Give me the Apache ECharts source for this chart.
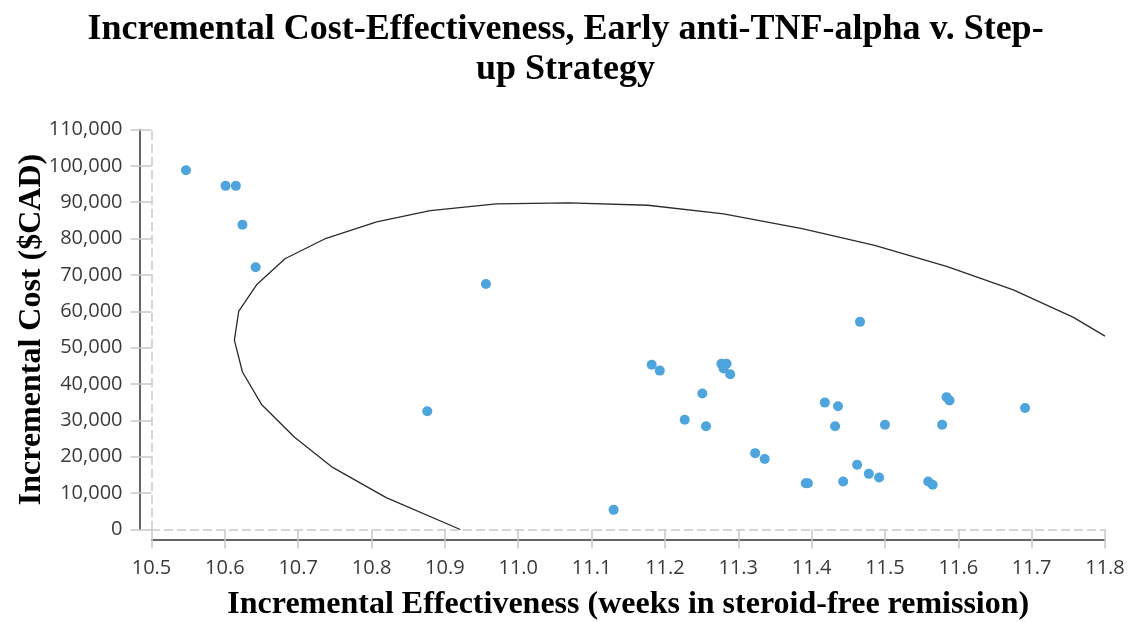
<!DOCTYPE html>
<html>
<head>
<meta charset="utf-8">
<script src="https://cdn.jsdelivr.net/npm/echarts@6/dist/echarts.min.js"></script>
<style>
  html, body { margin: 0; padding: 0; background: #ffffff; }
  #chart { width: 1131px; height: 622px; }
</style>
</head>
<body>
<div id="chart"></div>
<script>
// Simulated incremental outcomes (one dot per simulation run)
const effectiveness = [10.547, 10.601, 10.615, 10.624, 10.642, 10.956, 10.876, 11.130, 11.182, 11.193,
  11.277, 11.284, 11.280, 11.289, 11.251, 11.227, 11.256, 11.323, 11.336, 11.392,
  11.395, 11.443, 11.418, 11.436, 11.432, 11.466, 11.462, 11.478, 11.492, 11.500,
  11.584, 11.588, 11.578, 11.559, 11.565, 11.691];
const cost = [98800, 94500, 94500, 83800, 72100, 67500, 32500, 5400, 45300, 43700,
  45600, 45600, 44300, 42700, 37400, 30200, 28400, 21000, 19400, 12700,
  12700, 13200, 34900, 33900, 28400, 57100, 17800, 15300, 14300, 28800,
  36400, 35500, 28800, 13200, 12300, 33400];

// Confidence ellipse outline (clipped by the plot area)
const ellipseX = [10.921, 10.820, 10.747, 10.695, 10.650, 10.624, 10.613, 10.619, 10.644, 10.682,
  10.736, 10.807, 10.880, 10.970, 11.069, 11.177, 11.280, 11.387, 11.486, 11.585,
  11.675, 11.757, 11.800];
const ellipseY = [0, 8780, 17070, 25360, 34390, 43310, 52070, 60080, 67460, 74450,
  79890, 84590, 87710, 89560, 89830, 89170, 86790, 82730, 78120, 72320,
  65880, 58340, 53180];

// Axis ranges
const xMin = 10.5, xMax = 11.8, xStep = 0.1;
const yMin = 0, yMax = 110000, yStep = 10000;

const titleText = 'Incremental Cost-Effectiveness, Early anti-TNF-alpha v. Step-\nup Strategy';
const xName = 'Incremental Effectiveness (weeks in steroid-free remission)';
const yName = 'Incremental Cost ($CAD)';

const serif = '"Liberation Serif", "Times New Roman", serif';
const sans = '"Open Sans", "Liberation Sans", Arial, sans-serif';

const points = effectiveness.map((x, i) => [x, cost[i]]);
const ellipse = ellipseX.map((x, i) => [x, ellipseY[i]]);

const chart = echarts.init(document.getElementById('chart'), null, { renderer: 'canvas' });

const fmtY = v => String(v).replace(/\B(?=(\d{3})+(?!\d))/g, ',');

chart.setOption({
  animation: false,
  backgroundColor: '#ffffff',
  title: {
    text: titleText,
    left: 'center',
    top: 5,
    textStyle: { fontFamily: serif, fontWeight: 'bold', fontSize: 36, color: '#000', lineHeight: 40 }
  },
  grid: { left: 151.5, right: 26, top: 129.5, bottom: 92.5, containLabel: false, outerBoundsMode: 'none' },
  xAxis: [
    {
      // labelled axis, drawn slightly below the plot
      type: 'value', min: xMin, max: xMax, interval: xStep, position: 'bottom', offset: 10,
      axisLine: { show: true, onZero: false, lineStyle: { color: '#333', width: 1.5 } },
      axisTick: { show: false },
      splitLine: { show: false },
      axisLabel: { color: '#3a3a3a', fontFamily: sans, fontSize: 20, margin: 19, formatter: v => v.toFixed(1) },
      name: xName, nameLocation: 'middle', nameGap: 49,
      nameTextStyle: { fontFamily: serif, fontWeight: 'bold', fontSize: 32, color: '#000' }
    },
    {
      // dashed baseline with tick marks
      type: 'value', min: xMin, max: xMax, interval: xStep, position: 'bottom', offset: 0,
      axisLine: { show: true, onZero: false, lineStyle: { color: '#c8c8c8', type: [8, 5], width: 1.5 } },
      axisTick: { show: true, inside: false, length: 19, lineStyle: { color: '#c8c8c8', width: 1.5 } },
      axisLabel: { show: false },
      splitLine: { show: false }
    }
  ],
  yAxis: [
    {
      type: 'value', min: yMin, max: yMax, interval: yStep, position: 'left', offset: 12,
      axisLine: { show: true, onZero: false, lineStyle: { color: '#333', width: 1.5 } },
      axisTick: { show: false },
      splitLine: { show: false },
      axisLabel: { color: '#3a3a3a', fontFamily: sans, fontSize: 20, margin: 17, formatter: fmtY },
      name: yName, nameLocation: 'middle', nameGap: 92, nameRotate: 90, nameMoveOverlap: false,
      nameTextStyle: { fontFamily: serif, fontWeight: 'bold', fontSize: 32, color: '#000' }
    },
    {
      type: 'value', min: yMin, max: yMax, interval: yStep, position: 'left', offset: 0,
      axisLine: { show: true, onZero: false, lineStyle: { color: '#c8c8c8', type: [8, 5], width: 1.5 } },
      axisTick: { show: true, inside: false, length: 21, lineStyle: { color: '#c8c8c8', width: 1.5 } },
      axisLabel: { show: false },
      splitLine: { show: false }
    }
  ],
  series: [
    {
      type: 'line', xAxisIndex: 0, yAxisIndex: 0,
      data: ellipse, showSymbol: false, symbol: 'none', clip: true,
      lineStyle: { color: '#2b2b2b', width: 1.3 },
      silent: true, z: 2
    },
    {
      type: 'scatter', xAxisIndex: 0, yAxisIndex: 0,
      data: points, symbol: 'circle', symbolSize: 10,
      itemStyle: { color: '#4ea4dc', opacity: 1 },
      z: 3
    }
  ]
});
</script>
</body>
</html>
